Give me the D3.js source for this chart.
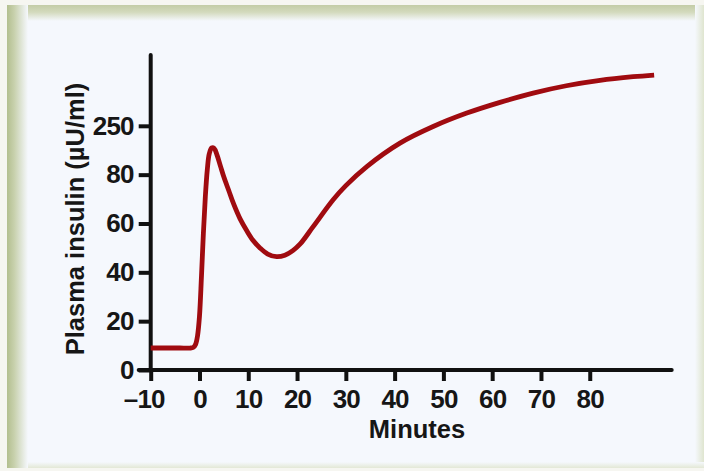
<!DOCTYPE html>
<html>
<head>
<meta charset="utf-8">
<script src="https://cdn.jsdelivr.net/npm/d3@7"></script>
<style>
  html, body { margin: 0; padding: 0; background: #f7f7f2; }
  svg { display: block; }
  text { font-family: "Liberation Sans", Arial, Helvetica, sans-serif; font-weight: bold; fill: #161616; }
</style>
</head>
<body>
<svg id="chart" width="704" height="471"></svg>
<script>
// ---- Data ----
const minutes = [-10, -7, -4, -2, -1.3, -0.8, -0.4, 0, 0.4, 0.8, 1.2, 1.6, 2.0, 2.5, 3.0, 3.6, 4.3, 5.0, 6.0, 7.0, 8.3, 9.7, 11, 12.4, 14, 15.8, 17.5, 19.2, 20.6, 23.3, 27.4, 30, 34.3, 41.1, 47.9, 54.8, 61.6, 68.4, 75.2, 82.1, 88.9, 93.2];
const insulin = [9, 9, 9, 9, 9.2, 10.5, 14, 22, 38, 56, 71, 82, 88.5, 91, 90.8, 88, 83.5, 79, 73.5, 68, 62, 57, 53, 50, 47.5, 46.4, 47, 49, 51.5, 58.7, 69.7, 75.5, 83.3, 92.9, 99.7, 105.2, 109.6, 113.4, 116.4, 118.6, 120.1, 120.8];
const xTickValues = [-10, 0, 10, 20, 30, 40, 50, 60, 70, 80];
const xTickLabels = ["\u201310", "0", "10", "20", "30", "40", "50", "60", "70", "80"];
const yTickValues = [0, 20, 40, 60, 80, 100];
const yTickLabels = ["0", "20", "40", "60", "80", "250"];
const xTitle = "Minutes";
const yTitle = "Plasma insulin (\u00b5U/ml)";

const svg = d3.select("#chart");
const defs = svg.append("defs");

// ---- Frame with soft green border ----
function grad(id, x1, y1, x2, y2, stops) {
  const g = defs.append("linearGradient").attr("id", id)
    .attr("x1", x1).attr("y1", y1).attr("x2", x2).attr("y2", y2);
  stops.forEach(s => g.append("stop").attr("offset", s[0]).attr("stop-color", s[1]));
}
const inner = "#f5f8fd";
grad("gL", 0, 0, 1, 0, [[0, "#b3bf8f"], [0.35, "#c8d1ad"], [1, inner]]);
grad("gT", 0, 0, 0, 1, [[0, "#c3cca6"], [0.45, "#d3dabd"], [1, inner]]);
grad("gR", 0, 0, 1, 0, [[0, inner], [1, "#dfe5cf"]]);
grad("gB", 0, 0, 0, 1, [[0, inner], [1, "#e3e8d6"]]);

svg.append("rect").attr("x", 0).attr("y", 0).attr("width", 704).attr("height", 471).attr("fill", "#f6f6f1");
svg.append("rect").attr("x", 7).attr("y", 5).attr("width", 697).attr("height", 463).attr("fill", inner);
svg.append("rect").attr("x", 7).attr("y", 5).attr("width", 697).attr("height", 16).attr("fill", "url(#gT)");
svg.append("rect").attr("x", 695).attr("y", 5).attr("width", 9).attr("height", 463).attr("fill", "url(#gR)");
svg.append("rect").attr("x", 7).attr("y", 462).attr("width", 697).attr("height", 6).attr("fill", "url(#gB)");
svg.append("rect").attr("x", 7).attr("y", 5).attr("width", 21).attr("height", 463).attr("fill", "url(#gL)");

// ---- Scales ----
const x = d3.scaleLinear().domain([-10, 96.8]).range([150.7, 671.7]);
const y = d3.scaleLinear().domain([0, 129]).range([370, 55]);

// ---- Axes ----
const xAxis = d3.axisBottom(x)
  .tickValues(xTickValues)
  .tickFormat((d, i) => xTickLabels[i])
  .tickSize(11).tickSizeOuter(0).tickPadding(9);
const yAxis = d3.axisLeft(y)
  .tickValues(yTickValues)
  .tickFormat((d, i) => yTickLabels[i])
  .tickSize(12).tickSizeOuter(0).tickPadding(5);

const gx = svg.append("g").attr("transform", `translate(0,${y(0)})`).call(xAxis);
const gy = svg.append("g").attr("transform", `translate(${x(-10)},0)`).call(yAxis);

[gx, gy].forEach(g => {
  g.select(".domain").attr("stroke", "#111").attr("stroke-width", 4).attr("stroke-linecap", "round");
  g.selectAll(".tick line").attr("stroke", "#111").attr("stroke-width", 4);
  g.selectAll(".tick text")
    .attr("font-family", "'Liberation Sans', Arial, sans-serif")
    .attr("font-weight", "bold")
    .attr("font-size", 26)
    .attr("letter-spacing", -0.8)
    .attr("fill", "#161616");
});
// hang the dash of the negative label to the left
gx.selectAll(".tick text").filter(d => d < 0).attr("dx", -7);
// extend x-axis line left to meet the y zero tick
gx.select(".domain").attr("d", `M${x(-10) - 12},0H${x(96.8)}`);
gy.select(".domain").attr("d", `M0,${y(129)}V${y(0)}`);

// ---- Titles ----
svg.append("text")
  .attr("x", 417).attr("y", 438)
  .attr("text-anchor", "middle")
  .attr("font-size", 25.5)
  .text(xTitle);

svg.append("text")
  .attr("transform", "translate(84,219) rotate(-90)")
  .attr("text-anchor", "middle")
  .attr("font-size", 25.5)
  .text(yTitle);

// ---- Curve ----
const line = d3.line()
  .x((d, i) => x(minutes[i]))
  .y((d, i) => y(insulin[i]))
  .curve(d3.curveCatmullRom.alpha(0.5));

svg.append("path")
  .datum(insulin)
  .attr("d", line)
  .attr("fill", "none")
  .attr("stroke", "#a00b10")
  .attr("stroke-width", 4.8)
  .attr("stroke-linejoin", "round")
  .attr("stroke-linecap", "butt");
</script>
</body>
</html>
